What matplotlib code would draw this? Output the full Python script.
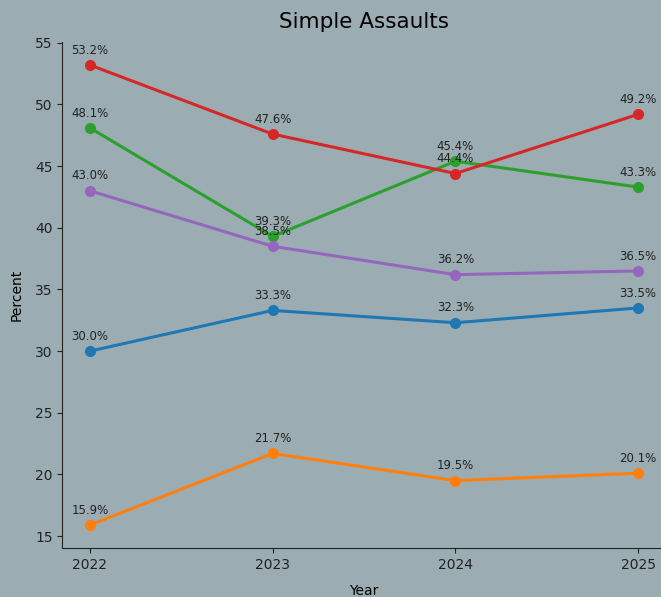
import matplotlib
matplotlib.use('Agg')
import matplotlib.pyplot as plt

# data
years = [2022, 2023, 2024, 2025]
blue_vals = [30.0, 33.3, 32.3, 33.5]
orange_vals = [15.9, 21.7, 19.5, 20.1]
green_vals = [48.1, 39.3, 45.4, 43.3]
red_vals = [53.2, 47.6, 44.4, 49.2]
purple_vals = [43.0, 38.5, 36.2, 36.5]

series = [blue_vals, orange_vals, green_vals, red_vals, purple_vals]
colors = ['tab:blue', 'tab:orange', 'tab:green', 'tab:red', 'tab:purple']

bg = '#9badb2'
fig = plt.figure(figsize=(6.61, 5.97), dpi=100, facecolor=bg)
# the original is cropped on the right and bottom
ax = fig.add_axes([62.5/661, 49/597, 603/661, 506/597])
ax.set_facecolor(bg)

for vals, c in zip(series, colors):
    ax.plot(years, vals, marker='o', color=c, linewidth=2.2, markersize=7)
    for x, y in zip(years, vals):
        ax.annotate(f'{y:.1f}%', (x, y), xytext=(0, 6), textcoords='offset points',
                    ha='center', va='bottom', fontsize=8.5, color='#222222')

ax.set_xticks(years)
ax.set_title('Simple Assaults', fontsize=15.5, pad=10)
ax.set_xlabel('Year', fontsize=10, labelpad=9)
ax.set_ylabel('Percent', fontsize=10, labelpad=8)
ax.tick_params(labelsize=10, colors='#222222')
ax.spines['top'].set_visible(False)
ax.spines['right'].set_visible(False)
ax.spines['left'].set_color('#222222')
ax.spines['bottom'].set_color('#222222')

fig.savefig('out.png', dpi=100, facecolor=bg)
